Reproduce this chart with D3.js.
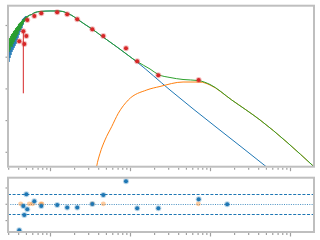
<!DOCTYPE html>
<html>
<head>
<meta charset="utf-8">
<script src="https://cdn.jsdelivr.net/npm/d3@7"></script>
<style>
  html, body { margin: 0; padding: 0; background: #fff; }
  svg { display: block; }
</style>
</head>
<body>
<svg id="sed"></svg>
<script>
const width = 320, height = 240;

// Wavelength in micron, flux in units of 1e-10 W m^-2
// Observed spectrum region (blue = photosphere model, green = total model)
const specWave = [0.2985, 0.303, 0.307, 0.3115, 0.316, 0.321, 0.3255, 0.330, 0.335, 0.340,
  0.345, 0.350, 0.355, 0.360, 0.365, 0.371, 0.376, 0.382, 0.387, 0.393,
  0.398, 0.404, 0.410, 0.416, 0.422, 0.428, 0.434, 0.441, 0.447, 0.453,
  0.460, 0.467, 0.473, 0.480, 0.487, 0.494, 0.501, 0.509, 0.516, 0.523,
  0.531, 0.539, 0.546, 0.554, 0.562];
const specStar = [0.38, 2.34, 0.68, 2.91, 0.91, 3.37, 1.13, 3.89, 1.41, 4.83,
  1.63, 5.6, 1.88, 6.0, 2.18, 6.95, 2.52, 8.0, 3.37, 9.3,
  3.89, 10, 4.83, 10.8, 6.0, 12.4, 6.95, 13.4, 8.0, 15.5,
  10, 16.6, 12.4, 17.9, 14.4, 19.2, 16.6, 18.5, 17.9, 19.2,
  19.2, 19.9, 19.9, 20.7, 20.7];
const specTotal = [1.88, 3.37, 1.41, 3.89, 1.63, 4.5, 2.18, 5.2, 2.02, 5.6,
  2.52, 6.47, 2.91, 6.95, 3.37, 8.0, 3.89, 8.65, 4.5, 9.3,
  5.2, 10.8, 6.47, 11.6, 6.95, 12.4, 8.0, 13.4, 9.3, 14.4,
  10.8, 15.5, 12.4, 16.6, 13.4, 17.9, 15.5, 18.5, 16.6, 19.2,
  17.9, 19.9, 19.2, 20.7, 20.7];

// Smooth photosphere beyond the spectrum
const starWave = [0.649, 0.750, 1.0, 1.22, 1.45, 1.63, 1.88, 2.18, 2.74, 3.35, 4.60, 6.88, 12.2, 31.6, 501, 1334];
const starFlux = [24.8, 26.7, 27.7, 27.7, 26.7, 23.6, 20.0, 15.5, 10.4, 7.49, 4.18, 2.02, 0.681, 0.0891, 3.44e-4, 4.67e-5];

// Dust blackbody
const dustWave = [3.55, 3.83, 4.22, 4.87, 5.90, 7.14, 9.52, 16.2, 23.7, 46.0, 75.0, 100, 187, 422, 1995];
const dustFlux = [8.97e-5, 3.44e-4, 8.97e-4, 2.36e-3, 6.19e-3, 0.0164, 0.0431, 0.0891, 0.115, 0.159, 0.159, 0.128, 0.0431, 0.0101, 3.39e-4];

// Total model beyond the spectrum
const totalWave = [0.649, 0.750, 1.0, 1.22, 1.45, 1.63, 1.88, 2.18, 2.74, 3.35, 4.60, 6.88,
  12.2, 17.8, 22.6, 31.6, 46.0, 71.4, 100, 187, 422, 1995];
const totalFlux = [24.8, 26.7, 27.7, 27.7, 26.7, 23.6, 20.0, 15.5, 10.4, 7.49, 4.18, 2.02,
  0.706, 0.409, 0.274, 0.221, 0.191, 0.177, 0.133, 0.0431, 0.0101, 3.39e-4];

// Photometry
const photWave = [0.413, 0.464, 0.477, 0.506, 0.520, 0.637, 0.778, 1.23, 1.64, 2.19, 3.38, 4.64, 8.91, 12.3, 22.6, 72.2];
const photFlux = [3.06, 6.33, 2.52, 4.50, 14.4, 19.2, 23.4, 25.2, 21.8, 15.1, 7.31, 4.50, 1.84, 0.716, 0.259, 0.184];
const photErrLo = [0, 6.26, 0, 0, 0, 0, 0, 0, 0, 0, 0, 0, 0, 0, 0, 0];

// Residuals (sigma)
const residWave = [0.413, 0.464, 0.477, 0.506, 0.520, 0.637, 0.778, 1.23, 1.64, 2.19, 3.38, 4.64, 8.91, 12.3, 22.6, 72.2, 164];
const residVal = [-8.1, -0.7, -3.4, 2.9, -1.7, 0.8, -0.7, -0.4, -1.1, -1.1, -0.1, 2.7, 6.9, -1.4, -1.4, 1.4, -0.15];
const exclWave = [0.430, 0.551, 0.608, 0.765, 0.794, 3.38, 4.64, 71.4];
const exclVal = [0, 0, 0, 0, 0, 0, 0, 0];

const xMajor = [1, 10, 100, 1000];
const xMinor = [0.3, 0.4, 0.5, 0.6, 0.7, 0.8, 0.9, 2, 3, 4, 5, 6, 7, 8, 9, 20, 30, 40, 50, 60, 70, 80, 90, 200, 300, 400, 500, 600, 700, 800, 900];
const yMajor = [10, 1, 0.1, 0.01, 0.001];
const residTicks = [-5, 0, 5];
const sigmaLines = [-3, 3];

const C = { blue: "#1f77b4", orange: "#ff7f0e", green: "#2ca02c", red: "#d62728", spine: "#bfbfbf", tick: "#a0a0a0" };

const svg = d3.select("#sed")
    .attr("width", width)
    .attr("height", height)
    .attr("viewBox", [0, 0, width, height]);

svg.append("rect").attr("width", width).attr("height", height).attr("fill", "#fff");

const left = 8, right = 314;
const top1 = 5.7, bot1 = 166.7;
const top2 = 177.7, bot2 = 232;

const x = d3.scaleLog().domain([Math.pow(10, -0.525), Math.pow(10, 3.3)]).range([left, right]);
const y = d3.scaleLog().domain([Math.pow(10, -3.470), Math.pow(10, 1.609)]).range([bot1, top1]);
const yr = d3.scaleLinear().domain([-8.65, 8.0]).range([bot2, top2]);

const defs = svg.append("defs");
defs.append("clipPath").attr("id", "clip1").append("rect")
    .attr("x", left).attr("y", top1).attr("width", right - left).attr("height", bot1 - top1);
defs.append("clipPath").attr("id", "clip2").append("rect")
    .attr("x", left).attr("y", top2).attr("width", right - left).attr("height", bot2 - top2);

function xTicks(yPos) {
    const major = svg.append("g").attr("transform", `translate(0,${yPos})`)
        .call(d3.axisBottom(x).tickValues(xMajor).tickFormat("").tickSize(3.5).tickSizeOuter(0));
    const minor = svg.append("g").attr("transform", `translate(0,${yPos})`)
        .call(d3.axisBottom(x).tickValues(xMinor).tickFormat("").tickSize(2).tickSizeOuter(0));
    [major, minor].forEach(a => {
        a.select(".domain").remove();
        a.selectAll("line").attr("stroke", C.tick).attr("stroke-width", 1.2);
    });
}

// Top panel
const p1 = svg.append("g").attr("clip-path", "url(#clip1)");
const line = d3.line().x(d => x(d[0])).y(d => y(d[1])).curve(d3.curveMonotoneX);

const starData = d3.zip(specWave.concat(starWave), specStar.concat(starFlux));
const totalData = d3.zip(specWave.concat(totalWave), specTotal.concat(totalFlux));
const dustData = d3.zip(dustWave, dustFlux);

p1.append("path").attr("d", line(starData)).attr("fill", "none").attr("stroke", C.blue).attr("stroke-width", 1);
p1.append("path").attr("d", line(dustData)).attr("fill", "none").attr("stroke", C.orange).attr("stroke-width", 1);
p1.append("path").attr("d", line(totalData)).attr("fill", "none").attr("stroke", C.green).attr("stroke-width", 1);

const phot = d3.zip(photWave, photFlux, photErrLo);
p1.selectAll(".err").data(phot.filter(d => d[2] > 0)).enter().append("line")
    .attr("x1", d => x(d[0])).attr("x2", d => x(d[0]))
    .attr("y1", d => y(d[1])).attr("y2", d => y(d[1] - d[2]))
    .attr("stroke", C.red).attr("stroke-width", 1);
p1.selectAll(".phot-halo").data(phot).enter().append("circle")
    .attr("cx", d => x(d[0])).attr("cy", d => y(d[1])).attr("r", 3)
    .attr("fill", C.red).attr("opacity", 0.3);
p1.selectAll(".phot").data(phot).enter().append("circle")
    .attr("cx", d => x(d[0])).attr("cy", d => y(d[1])).attr("r", 2)
    .attr("fill", C.red);

// y ticks (top)
const ya = svg.append("g").attr("transform", `translate(${left},0)`)
    .call(d3.axisLeft(y).tickValues(yMajor).tickFormat("").tickSize(2.5).tickSizeOuter(0));
ya.select(".domain").remove();
ya.selectAll("line").attr("stroke", C.tick).attr("stroke-width", 1.2);
xTicks(bot1 + 1);

svg.append("rect").attr("x", left).attr("y", top1).attr("width", right - left).attr("height", bot1 - top1)
    .attr("fill", "none").attr("stroke", C.spine).attr("stroke-width", 2);

// Bottom panel
const p2 = svg.append("g").attr("clip-path", "url(#clip2)");
p2.selectAll(".sig").data(sigmaLines).enter().append("line")
    .attr("x1", left).attr("x2", right).attr("y1", d => Math.round(yr(d)) + 0.5).attr("y2", d => Math.round(yr(d)) + 0.5)
    .attr("stroke", C.blue).attr("stroke-width", 1).attr("stroke-dasharray", "3,1.6");
p2.append("line")
    .attr("x1", left).attr("x2", right).attr("y1", Math.round(yr(0)) + 0.5).attr("y2", Math.round(yr(0)) + 0.5)
    .attr("stroke", C.blue).attr("stroke-width", 1).attr("stroke-dasharray", "1,1.3").attr("opacity", 0.8);

const excl = d3.zip(exclWave, exclVal);
p2.selectAll(".excl").data(excl).enter().append("circle")
    .attr("cx", d => x(d[0])).attr("cy", d => yr(d[1])).attr("r", 2.4)
    .attr("fill", C.orange).attr("opacity", 0.4);

const resid = d3.zip(residWave, residVal);
p2.selectAll(".res-halo").data(resid).enter().append("circle")
    .attr("cx", d => x(d[0])).attr("cy", d => yr(d[1])).attr("r", 3)
    .attr("fill", C.blue).attr("opacity", 0.3);
p2.selectAll(".res").data(resid).enter().append("circle")
    .attr("cx", d => x(d[0])).attr("cy", d => yr(d[1])).attr("r", 2)
    .attr("fill", C.blue);

const yra = svg.append("g").attr("transform", `translate(${left},0)`)
    .call(d3.axisLeft(yr).tickValues(residTicks).tickFormat("").tickSize(2.5).tickSizeOuter(0));
yra.select(".domain").remove();
yra.selectAll("line").attr("stroke", C.tick).attr("stroke-width", 1.2);
xTicks(bot2 + 1);

svg.append("rect").attr("x", left).attr("y", top2).attr("width", right - left).attr("height", bot2 - top2)
    .attr("fill", "none").attr("stroke", C.spine).attr("stroke-width", 2);
</script>
</body>
</html>
